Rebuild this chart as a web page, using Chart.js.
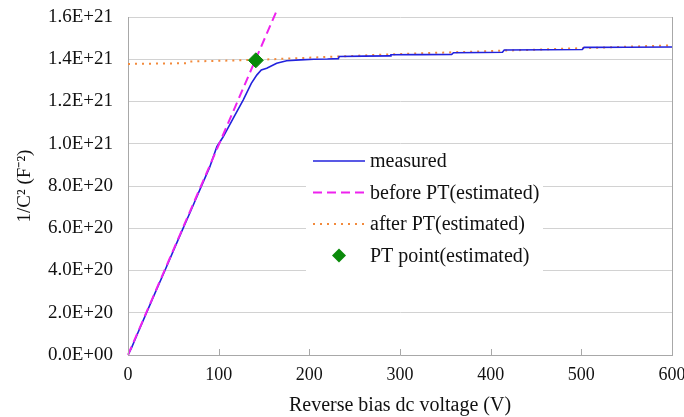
<!DOCTYPE html>
<html>
<head>
<meta charset="utf-8">
<script src="https://cdn.jsdelivr.net/npm/chart.js@4.4.1/dist/chart.umd.min.js"></script>
<style>
  html, body { margin: 0; padding: 0; background: #fff; }
  #wrap { width: 684px; height: 417px; }
</style>
</head>
<body>
<div id="wrap"><canvas id="cvChart"></canvas></div>
<script>
// measured 1/C^2 vs reverse bias
const measuredV = [0, 4, 10, 20, 30, 40, 50, 60, 70, 80, 90, 98, 105, 116, 127, 136, 142, 147, 153, 164, 175, 190, 205, 220, 232, 233, 260, 289, 290, 320, 357, 359, 390, 413, 415, 460, 501, 503, 550, 600];
const measuredC = [0, 3.5e19, 9.6e19, 1.96e20, 2.95e20, 3.93e20, 4.93e20, 5.92e20, 6.9e20, 7.9e20, 8.88e20, 9.86e20, 1.033e21, 1.12e21, 1.207e21, 1.286e21, 1.325e21, 1.349e21, 1.357e21, 1.381e21, 1.393e21, 1.397e21, 1.4e21, 1.401e21, 1.403e21, 1.413e21, 1.415e21, 1.416e21, 1.421e21, 1.422e21, 1.423e21, 1.431e21, 1.432e21, 1.433e21, 1.444e21, 1.445e21, 1.446e21, 1.456e21, 1.457e21, 1.458e21];

// fitted lines
const beforeV = [0, 165];
const beforeC = [0, 1.64e21];
const afterV = [0, 64, 66, 141, 300, 600];
const afterC = [1.378e21, 1.381e21, 1.389e21, 1.397e21, 1.425e21, 1.466e21];

// punch-through point
const ptV = [141];
const ptC = [1.395e21];

const xTicks = [0, 100, 200, 300, 400, 500, 600];
const yTickLabels = ['0.0E+00', '2.0E+20', '4.0E+20', '6.0E+20', '8.0E+20', '1.0E+21', '1.2E+21', '1.4E+21', '1.6E+21'];

const legendNames = ['measured', 'before PT(estimated)', 'after PT(estimated)', 'PT point(estimated)'];

const toXY = (xs, ys) => xs.map((x, i) => ({ x: x, y: ys[i] }));

const serif = '"Liberation Serif", "Times New Roman", serif';

// inside tick marks, right frame line and the boxed legend
const extrasPlugin = {
    id: 'extras',
    afterDatasetsDraw(chart) {
        const ctx = chart.ctx;
        const area = chart.chartArea;
        const xs = chart.scales.x;
        ctx.save();
        ctx.strokeStyle = '#a8a8a8';
        ctx.lineWidth = 1;
        ctx.beginPath();
        xTicks.forEach(v => {
            const px = Math.round(xs.getPixelForValue(v)) + 0.5;
            ctx.moveTo(px, area.bottom);
            ctx.lineTo(px, area.bottom - 6);
        });
        ctx.moveTo(Math.round(area.right) + 0.5, area.top);
        ctx.lineTo(Math.round(area.right) + 0.5, area.bottom);
        ctx.stroke();

        // legend
        const bx = 306, by = 146, bw = 237, bh = 126;
        ctx.fillStyle = '#fff';
        ctx.fillRect(bx, by, bw, bh);
        const rowH = 31.5;
        const y0 = 161;
        const sx0 = 313, sx1 = 365;
        ctx.font = '20px ' + serif;
        ctx.textBaseline = 'middle';
        ctx.textAlign = 'left';
        chart.data.datasets.forEach((ds, i) => {
            const y = y0 + i * rowH;
            ctx.save();
            if (ds.showLine === false) {
                ctx.fillStyle = ds.pointBackgroundColor;
                const r = 7;
                const cx = (sx0 + sx1) / 2;
                ctx.beginPath();
                ctx.moveTo(cx, y - r);
                ctx.lineTo(cx + r, y);
                ctx.lineTo(cx, y + r);
                ctx.lineTo(cx - r, y);
                ctx.closePath();
                ctx.fill();
            } else {
                ctx.strokeStyle = ds.borderColor;
                ctx.lineWidth = ds.borderWidth;
                ctx.setLineDash(ds.borderDash || []);
                ctx.beginPath();
                ctx.moveTo(sx0, y);
                ctx.lineTo(sx1, y);
                ctx.stroke();
            }
            ctx.restore();
            ctx.fillStyle = '#111';
            ctx.fillText(legendNames[i], 370, y + 1);
        });
        ctx.restore();
    }
};

new Chart(document.getElementById('cvChart'), {
    type: 'line',
    data: {
        datasets: [{
            label: legendNames[0],
            data: toXY(measuredV, measuredC),
            borderColor: '#2222dd',
            borderWidth: 1.6,
            pointRadius: 0,
            tension: 0,
            order: 2
        }, {
            label: legendNames[1],
            data: toXY(beforeV, beforeC),
            borderColor: '#ee22ee',
            borderWidth: 2,
            borderDash: [9, 5],
            pointRadius: 0,
            clip: false,
            order: 1
        }, {
            label: legendNames[2],
            data: toXY(afterV, afterC),
            borderColor: '#f28a3c',
            borderWidth: 2,
            borderDash: [2, 5],
            pointRadius: 0,
            order: 3
        }, {
            label: legendNames[3],
            data: toXY(ptV, ptC),
            showLine: false,
            pointStyle: 'rectRot',
            pointRadius: 7.5,
            pointBackgroundColor: '#0a8a0a',
            pointBorderColor: '#0a8a0a',
            borderColor: '#0a8a0a',
            order: 0
        }]
    },
    options: {
        responsive: true,
        maintainAspectRatio: false,
        animation: false,
        layout: { padding: { top: 17, right: 12, left: 0, bottom: 0 } },
        plugins: {
            legend: { display: false },
            tooltip: { enabled: false }
        },
        scales: {
            x: {
                type: 'linear',
                min: 0,
                max: 600,
                afterBuildTicks: s => { s.ticks = xTicks.map(v => ({ value: v })); },
                afterFit: s => { s.height = 62; s.paddingLeft = 0; s.paddingRight = 0; },
                grid: { display: false, drawTicks: false },
                border: { display: true, color: '#a8a8a8', width: 1 },
                ticks: {
                    color: '#111',
                    font: { family: serif, size: 18 },
                    padding: 9,
                    maxRotation: 0,
                    autoSkip: false
                },
                title: {
                    display: true,
                    text: 'Reverse bias dc voltage (V)',
                    color: '#111',
                    font: { family: serif, size: 20 },
                    padding: { top: 0, bottom: -1 }
                }
            },
            y: {
                min: 0,
                max: 1.6e21,
                afterBuildTicks: s => { s.ticks = yTickLabels.map((t, i) => ({ value: i * 2e20 })); },
                afterFit: s => { s.width = 128; s.paddingTop = 0; s.paddingBottom = 0; },
                grid: { color: '#d2d2d2', lineWidth: 1, drawTicks: false },
                border: { display: true, color: '#a8a8a8', width: 1 },
                ticks: {
                    color: '#111',
                    font: { family: serif, size: 19 },
                    padding: 15,
                    callback: (v, i) => yTickLabels[i]
                },
                title: {
                    display: true,
                    text: '1/C\u00B2 (F\u207B\u00B2)',
                    color: '#111',
                    font: { family: serif, size: 19 },
                    padding: { top: 14, bottom: 0 }
                }
            }
        }
    },
    plugins: [extrasPlugin]
});
</script>
</body>
</html>
